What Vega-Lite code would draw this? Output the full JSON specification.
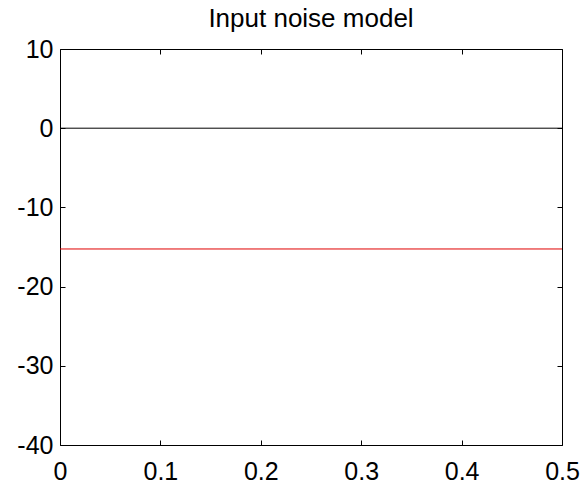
{
  "$schema": "https://vega.github.io/schema/vega-lite/v6.json",
  "width": 502,
  "height": 396,
  "autosize": "none",
  "padding": {"left": 60, "top": 49, "right": 23, "bottom": 40},
  "background": "white",
  "title": {
    "text": "Input noise model",
    "font": "Liberation Sans",
    "fontSize": 26,
    "fontWeight": "normal",
    "color": "black",
    "baseline": "alphabetic",
    "offset": -16
  },
  "data": {
    "values": [
      {"x": 0, "y": 0, "series": "a"},
      {"x": 0.5, "y": 0, "series": "a"},
      {"x": 0, "y": -15.25, "series": "b"},
      {"x": 0.5, "y": -15.25, "series": "b"}
    ]
  },
  "config": {
    "view": {"stroke": null},
    "axis": {
      "domainColor": "black",
      "domainWidth": 1,
      "tickColor": "black",
      "tickWidth": 1,
      "tickSize": -5,
      "labelColor": "black",
      "labelFont": "Liberation Sans",
      "labelFontSize": 25,
      "grid": false,
      "labelFlush": false,
      "labelOverlap": false
    }
  },
  "layer": [
    {
      "mark": {"type": "line", "strokeWidth": 1},
      "encoding": {
        "x": {
          "field": "x", "type": "quantitative",
          "scale": {"domain": [0, 0.5], "nice": false, "zero": false},
          "axis": {"orient": "bottom", "title": null, "values": [0, 0.1, 0.2, 0.3, 0.4, 0.5], "format": "~g", "labelPadding": 19}
        },
        "y": {
          "field": "y", "type": "quantitative",
          "scale": {"domain": [-40, 10], "nice": false, "zero": false},
          "axis": {"orient": "left", "title": null, "values": [-40, -30, -20, -10, 0, 10], "labelExpr": "toString(datum.value)", "labelPadding": 12}
        },
        "color": {
          "field": "series", "type": "nominal",
          "scale": {"domain": ["a", "b"], "range": ["black", "#e00000"]},
          "legend": null
        }
      }
    },
    {
      "mark": {"type": "line", "opacity": 0},
      "encoding": {
        "x": {
          "field": "x", "type": "quantitative",
          "axis": {"orient": "top", "title": null, "values": [0, 0.1, 0.2, 0.3, 0.4, 0.5], "labels": false}
        },
        "y": {
          "field": "y", "type": "quantitative",
          "axis": {"orient": "right", "title": null, "values": [-40, -30, -20, -10, 0, 10], "labels": false}
        },
        "detail": {"field": "series", "type": "nominal"}
      }
    }
  ],
  "resolve": {"axis": {"x": "independent", "y": "independent"}}
}
